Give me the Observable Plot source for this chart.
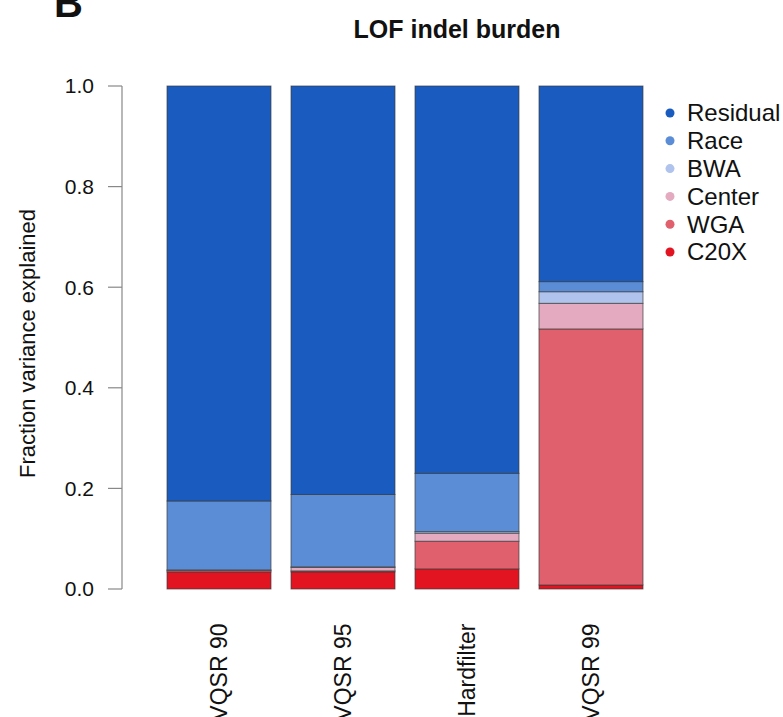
<!DOCTYPE html>
<html>
<head>
<meta charset="utf-8">
<script src="https://cdn.jsdelivr.net/npm/d3@7"></script>
<script src="https://cdn.jsdelivr.net/npm/@observablehq/plot@0.6"></script>
<style>
  html, body { margin: 0; padding: 0; background: white; }
</style>
</head>
<body>
<div id="chart"></div>
<script>
// ---- data ----
const categories = ["VQSR 90", "VQSR 95", "Hardfilter", "VQSR 99"];
const components = ["Residual", "Race", "BWA", "Center", "WGA", "C20X"]; // legend order
const colors = ["#1a5bbf", "#5b8dd6", "#afc3ec", "#e3aac0", "#e0606d", "#e31421"];
const c20x     = [0.034, 0.034, 0.040, 0.008];
const wga      = [0.003, 0.002, 0.055, 0.509];
const center   = [0.001, 0.007, 0.016, 0.051];
const bwa      = [0.000, 0.001, 0.003, 0.023];
const race     = [0.137, 0.144, 0.116, 0.020];
const residual = [0.825, 0.812, 0.770, 0.389];
const yTicks = [0, 0.2, 0.4, 0.6, 0.8, 1.0];
const yTickLabels = ["0.0", "0.2", "0.4", "0.6", "0.8", "1.0"];
const titleText = "LOF indel burden";
const panelLetter = "B";
const yLabel = "Fraction variance explained";

// stacking order bottom -> top
const series = [
  ["C20X", c20x], ["WGA", wga], ["Center", center],
  ["BWA", bwa], ["Race", race], ["Residual", residual]
];
const rows = [];
for (const [comp, vals] of series) {
  categories.forEach((cat, i) => rows.push({cat, comp, value: vals[i]}));
}

const FONT = "'Liberation Sans', Arial, Helvetica, sans-serif";

function decor(index, scales, values, dims) {
  const {y, color} = scales;
  const g = d3.create("svg:g").attr("font-family", FONT).attr("fill", "#111")
    .attr("text-anchor", "start");
  const axisX = 122;
  // y axis line
  g.append("line")
    .attr("x1", axisX).attr("x2", axisX)
    .attr("y1", y(yTicks[0])).attr("y2", y(yTicks[yTicks.length - 1]))
    .attr("stroke", "#888").attr("stroke-width", 1.2);
  yTicks.forEach((t, i) => {
    g.append("line")
      .attr("x1", axisX - 14).attr("x2", axisX)
      .attr("y1", y(t)).attr("y2", y(t))
      .attr("stroke", "#888").attr("stroke-width", 1.2);
    g.append("text")
      .attr("x", axisX - 28).attr("y", y(t)).attr("dy", "0.35em")
      .attr("text-anchor", "end").attr("font-size", 21)
      .text(yTickLabels[i]);
  });
  // y label
  const yc = (y(0) + y(1)) / 2 + 6;
  g.append("text")
    .attr("transform", `translate(35,${yc}) rotate(-90)`)
    .attr("text-anchor", "middle").attr("font-size", 22)
    .text(yLabel);
  // title
  g.append("text")
    .attr("x", 457).attr("y", 38)
    .attr("text-anchor", "middle").attr("font-size", 25).attr("font-weight", "bold")
    .text(titleText);
  // panel letter
  g.append("text")
    .attr("x", 54).attr("y", 17)
    .attr("text-anchor", "start")
    .attr("font-size", 40).attr("font-weight", "bold")
    .text(panelLetter);
  // legend
  components.forEach((c, i) => {
    const cy = 113 + 27.8 * i;
    g.append("circle").attr("cx", 670).attr("cy", cy).attr("r", 4.5).attr("fill", color(c));
    g.append("text")
      .attr("x", 687).attr("y", cy).attr("dy", "0.35em")
      .attr("text-anchor", "start")
      .attr("font-size", 24)
      .text(c);
  });
  return g.node();
}

const chart = Plot.plot({
  width: 783,
  height: 717,
  marginTop: 86,
  marginBottom: 128,
  marginLeft: 147,
  marginRight: 120,
  style: {fontFamily: FONT, background: "white", color: "#111"},
  x: {domain: categories, padding: 0.161, label: null},
  y: {domain: [0, 1], axis: null},
  color: {domain: components, range: colors},
  marks: [
    Plot.barY(rows, {
      x: "cat", y: "value", fill: "comp",
      stroke: "#3a3a3a", strokeOpacity: 0.75, strokeWidth: 0.9
    }),
    Plot.axisX({
      tickRotate: -90, tickSize: 0, tickPadding: 34,
      fontSize: 23, label: null
    }),
    decor
  ]
});
document.getElementById("chart").appendChild(chart);
</script>
</body>
</html>
